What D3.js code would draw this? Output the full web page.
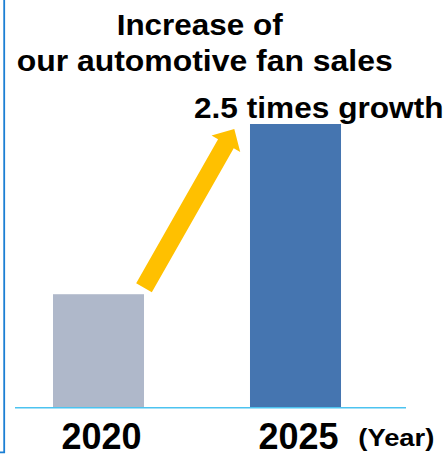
<!DOCTYPE html>
<html>
<head>
<meta charset="utf-8">
<script src="https://cdn.jsdelivr.net/npm/d3@7"></script>
<style>
  html, body { margin: 0; padding: 0; background: #fff; }
  svg { display: block; }
  text { font-family: Arial, "Liberation Sans", sans-serif; font-weight: bold; fill: #000; }
</style>
</head>
<body>
<div id="chart"></div>
<script>
// data
const years = ['2020', '2025'];
const sales = [1.0, 2.5];
const barColors = ['#AFB8CA', '#4575B0'];
const titleLines = ['Increase of', 'our automotive fan sales'];
const growthLabel = '2.5 times growth';
const unitLabel = '(Year)';

const chart = {
    init(elementId, width, height) {
        this.width = width;
        this.height = height;
        this.svg = d3.select(`#${elementId}`)
                    .append('svg')
                    .attr('width', width)
                    .attr('height', height);
        this.x = d3.scaleBand()
            .domain(years)
            .range([0, 394])
            .paddingInner(0.538)
            .paddingOuter(0.269);
        this.y = d3.scaleLinear()
            .domain([0, d3.max(sales)])
            .range([407.7, 124]);
    },

    render() {
        this.renderFrame();
        this.renderTitle();
        this.renderBars();
        this.renderBaseline();
        this.renderArrow();
        this.renderLabels();
    },

    renderFrame() {
        // corner of the surrounding slide box, only its edge is visible
        this.svg.append('path')
            .attr('d', 'M0,452.3 H4.2 V0')
            .attr('fill', 'none')
            .attr('stroke', '#1B7FD4')
            .attr('stroke-width', 1.8);
    },

    renderTitle() {
        // source text looks a bit stretched horizontally, so fix the lengths
        const lines = [
            { x: 116.7, y: 35, len: 166, size: 29 },
            { x: 16.7, y: 71, len: 376, size: 29 },
        ];
        this.svg.append('g')
            .selectAll('text')
            .data(titleLines)
            .join('text')
            .attr('x', (d, i) => lines[i].x)
            .attr('y', (d, i) => lines[i].y)
            .attr('font-size', (d, i) => lines[i].size)
            .attr('textLength', (d, i) => lines[i].len)
            .attr('lengthAdjust', 'spacingAndGlyphs')
            .text((d) => d);

        this.svg.append('text')
            .attr('x', 194)
            .attr('y', 118.3)
            .attr('font-size', 30)
            .attr('textLength', 249.5)
            .attr('lengthAdjust', 'spacingAndGlyphs')
            .text(growthLabel);
    },

    renderBars() {
        this.svg.append('g')
            .selectAll('rect')
            .data(sales)
            .join('rect')
            .attr('x', (d, i) => this.x(years[i]))
            .attr('y', (d) => this.y(d))
            .attr('width', this.x.bandwidth())
            .attr('height', (d) => this.y(0) - this.y(d))
            .attr('fill', (d, i) => barColors[i]);
    },

    renderBaseline() {
        this.svg.append('line')
            .attr('x1', 15)
            .attr('x2', 406)
            .attr('y1', this.y(0))
            .attr('y2', this.y(0))
            .attr('stroke', '#4CC3F0')
            .attr('stroke-width', 1.4);
    },

    renderArrow() {
        // from the top corner of the first bar up to the left of the second one
        const x0 = this.x(years[0]) + this.x.bandwidth();
        const y0 = this.y(sales[0]) - 6.5;
        const x1 = this.x(years[1]) - 15.7;
        const y1 = this.y(sales[1]) + 5;
        const dx = x1 - x0, dy = y1 - y0;
        const len = Math.hypot(dx, dy);
        const ux = dx / len, uy = dy / len;
        const nx = -uy, ny = ux;
        const shaft = 9, head = 16.5, headLen = 17;
        const bx = x1 - ux * headLen, by = y1 - uy * headLen;
        const pts = [
            [x0 + nx * shaft, y0 + ny * shaft],
            [bx + nx * shaft, by + ny * shaft],
            [bx + nx * head, by + ny * head],
            [x1, y1],
            [bx - nx * head, by - ny * head],
            [bx - nx * shaft, by - ny * shaft],
            [x0 - nx * shaft, y0 - ny * shaft],
        ];
        this.svg.append('path')
            .attr('d', d3.line()(pts) + 'Z')
            .attr('fill', '#FFC000');
    },

    renderLabels() {
        this.svg.append('g')
            .selectAll('text')
            .data(years)
            .join('text')
            .attr('x', (d) => this.x(d) + this.x.bandwidth() / 2 + 3)
            .attr('y', 449.3)
            .attr('text-anchor', 'middle')
            .attr('font-size', 36)
            .text((d) => d);

        this.svg.append('text')
            .attr('x', 358.3)
            .attr('y', 446)
            .attr('font-size', 24)
            .attr('textLength', 76)
            .attr('lengthAdjust', 'spacingAndGlyphs')
            .text(unitLabel);
    }
};

chart.init('chart', 444, 462);
chart.render();
</script>
</body>
</html>
